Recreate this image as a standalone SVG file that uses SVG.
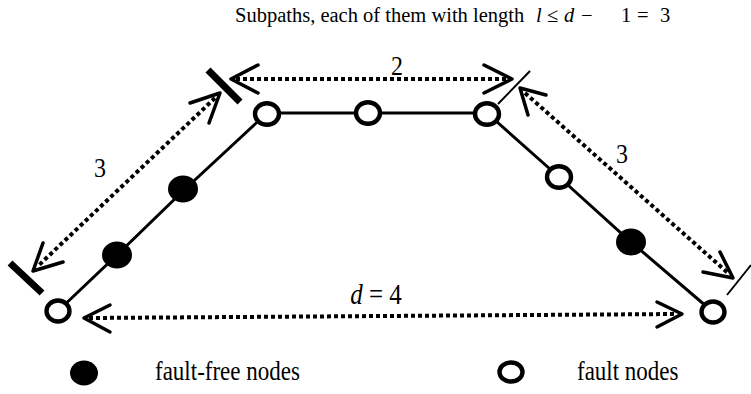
<svg xmlns="http://www.w3.org/2000/svg" width="751" height="394" viewBox="0 0 751 394">
  <style>
    .txt { font-family: "Liberation Serif", "Times New Roman", serif; fill: #000; }
    .it { font-style: italic; }
    .edge { stroke: #000; stroke-width: 3; fill: none; }
    .dots { stroke: #000; stroke-width: 4; stroke-dasharray: 4 3; fill: none; }
    .head { stroke: #000; stroke-width: 3.5; fill: none; stroke-linecap: round; stroke-linejoin: round; }
    .bar { stroke: #000; stroke-width: 7; }
    .tick { stroke: #000; stroke-width: 2; }
    .fault { fill: #fff; stroke: #000; stroke-width: 4.4; }
    .ok { fill: #000; }
  </style>

  <!-- title -->
  <text class="txt" font-size="20.5" y="22"><tspan x="235">Subpaths, each of them with length</tspan><tspan class="it" x="536">l</tspan><tspan x="547">≤</tspan><tspan class="it" x="564">d</tspan><tspan x="581">−</tspan><tspan x="621">1</tspan><tspan x="637">=</tspan><tspan x="660">3</tspan></text>

  <!-- path edges and dimension markers -->
  <g id="connectors">
    <polyline class="edge" points="58,311 117,255 183,191 267,113 368,113 487,113 559,177 631,242 713,312"/>

    <!-- top span: 2 -->
    <line class="dots" x1="236" y1="79" x2="507" y2="79"/>
    <polyline class="head" points="258,65 231,79 258,93"/>
    <polyline class="head" points="484,65 512,79 484,93"/>

    <!-- left span: 3 -->
    <line class="dots" x1="215" y1="98" x2="38" y2="266"/>
    <polyline class="head" points="190,103 220,93 209,123"/>
    <polyline class="head" points="43,243 33,271 63,262"/>

    <!-- right span: 3 -->
    <line class="dots" x1="525" y1="93" x2="728" y2="273"/>
    <polyline class="head" points="546,95 520,88 528,115"/>
    <polyline class="head" points="703,272 733,278 720,252"/>

    <!-- bottom span: d = 4 -->
    <line class="dots" x1="89" y1="318" x2="677" y2="314"/>
    <polyline class="head" points="110,305 84,318 110,332"/>
    <polyline class="head" points="657,302 682,314 657,327"/>

    <!-- subpath boundaries -->
    <line class="bar" x1="208" y1="70" x2="240" y2="102"/>
    <line class="bar" x1="10" y1="263" x2="42" y2="293"/>
    <line class="tick" x1="498" y1="104" x2="530" y2="71"/>
    <line class="tick" x1="727" y1="295" x2="751" y2="265"/>
  </g>

  <!-- span labels (slightly tall glyphs) -->
  <text class="txt" font-size="24" text-anchor="middle" transform="translate(397,75) scale(1,1.1)">2</text>
  <text class="txt" font-size="24" text-anchor="middle" transform="translate(100,177) scale(1,1.1)">3</text>
  <text class="txt" font-size="24" text-anchor="middle" transform="translate(622,163) scale(1,1.1)">3</text>
  <text class="txt" font-size="25" text-anchor="middle" transform="translate(376,304) scale(1,1.15)"><tspan class="it">d</tspan> = 4</text>

  <!-- nodes -->
  <g id="n1"><ellipse class="fault" cx="58" cy="311" rx="11.5" ry="10.5"/></g>
  <g id="n2"><ellipse class="ok" cx="117" cy="255" rx="15" ry="13.5"/></g>
  <g id="n3"><ellipse class="ok" cx="183" cy="189" rx="15" ry="13.5"/></g>
  <g id="n4"><ellipse class="fault" cx="267" cy="114" rx="12" ry="10.8"/></g>
  <g id="n5"><ellipse class="fault" cx="368" cy="113" rx="12" ry="10.8"/></g>
  <g id="n6"><ellipse class="fault" cx="487" cy="114" rx="12" ry="10.8"/></g>
  <g id="n7"><ellipse class="fault" cx="559" cy="177" rx="12" ry="10.8"/></g>
  <g id="n8"><ellipse class="ok" cx="631" cy="242" rx="15" ry="13.5"/></g>
  <g id="n9"><ellipse class="fault" cx="713" cy="312" rx="11.5" ry="10.5"/></g>

  <!-- legend -->
  <g id="legend-ok">
    <ellipse class="ok" cx="84" cy="373" rx="14" ry="12.5"/>
    <text class="txt" font-size="23" transform="translate(155,380) scale(1,1.2)">fault-free nodes</text>
  </g>
  <g id="legend-fault">
    <ellipse class="fault" cx="511" cy="372" rx="11.5" ry="9.5" stroke-width="5"/>
    <text class="txt" font-size="23" transform="translate(577,380) scale(1,1.2)">fault nodes</text>
  </g>
</svg>
